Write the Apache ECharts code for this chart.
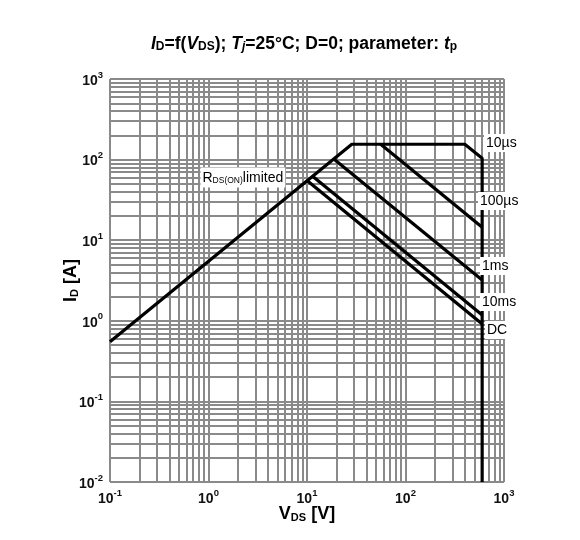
<!DOCTYPE html>
<html>
<head>
<meta charset="utf-8">
<script src="https://cdn.jsdelivr.net/npm/echarts@6/dist/echarts.min.js"></script>
<style>
html, body { margin: 0; padding: 0; background: #fff; }
#chart { width: 580px; height: 540px; }
</style>
</head>
<body>
<div id="chart"></div>
<script>
// axis decades and the 2..9 minor grid steps
const xDecades = [0.1, 1, 10, 100, 1000];
const yDecades = [0.01, 0.1, 1, 10, 100, 1000];
const minorSteps = [2, 3, 4, 5, 6, 7, 8, 9];

// SOA curves, [VDS (V), ID (A)]
const curve10us = [[0.1, 0.55], [28.5, 155], [400, 155], [600, 104], [600, 0.01]];
const curve100us = [[56, 155], [600, 14.5]];
const curve1ms = [[18.7, 102], [600, 3.2]];
const curve10ms = [[11.4, 62], [600, 1.18]];
const curveDC = [[10, 55], [600, 0.91]];

const FONT = 'Liberation Sans, Arial, sans-serif';

function gridValues(decades) {
	const out = [];
	decades.forEach((d, i) => {
		out.push(d);
		if (i < decades.length - 1) minorSteps.forEach(m => out.push(d * m));
	});
	return out;
}
const xGrid = gridValues(xDecades);
const yGrid = gridValues(yDecades);

const tickRich = {
	b: { fontSize: 14, fontWeight: 'bold', color: '#111', fontFamily: FONT, lineHeight: 18, verticalAlign: 'bottom' },
	e: { fontSize: 9.5, fontWeight: 'bold', color: '#111', fontFamily: FONT, lineHeight: 10, verticalAlign: 'top' }
};
function powLabel(v) {
	const e = Math.round(Math.log10(v));
	return '{b|10}{e|' + e + '}';
}
const nameRich = {
	v: { fontSize: 18, fontWeight: 'bold', color: '#000', fontFamily: FONT, lineHeight: 20, verticalAlign: 'bottom' },
	s: { fontSize: 11, fontWeight: 'bold', color: '#000', fontFamily: FONT, lineHeight: 13, verticalAlign: 'bottom' }
};

function curve(data) {
	return {
		type: 'line',
		data: data,
		showSymbol: false,
		symbol: 'none',
		z: 3,
		silent: true,
		lineStyle: { color: '#000', width: 3.2 }
	};
}

function curveLabel(text, x, y) {
	return {
		type: 'text', x: x, y: y, z: 100,
		style: {
			text: text, fontSize: 14, fontFamily: FONT, fill: '#000',
			backgroundColor: '#fff', padding: [2, 2], align: 'left', verticalAlign: 'middle'
		}
	};
}

const chart = echarts.init(document.getElementById('chart'), null, { renderer: 'canvas', width: 580, height: 540 });

const option = {
	animation: false,
	backgroundColor: '#fff',
	title: {
		text: '{i|I}{s|D}{n|=f(}{i|V}{s|DS}{n|); }{i|T}{si|j}{n|=25°C; D=0; parameter: }{i|t}{s|p}',
		left: 146,
		top: 28,
		textStyle: {
			rich: {
				n: { fontSize: 17.5, fontWeight: 'bold', color: '#000', fontFamily: FONT, lineHeight: 20, verticalAlign: 'bottom' },
				i: { fontSize: 17.5, fontWeight: 'bold', fontStyle: 'italic', color: '#000', fontFamily: FONT, lineHeight: 20, verticalAlign: 'bottom' },
				s: { fontSize: 12, fontWeight: 'bold', color: '#000', fontFamily: FONT, lineHeight: 14, verticalAlign: 'bottom' },
				si: { fontSize: 12, fontWeight: 'bold', fontStyle: 'italic', color: '#000', fontFamily: FONT, lineHeight: 14, verticalAlign: 'bottom' }
			}
		}
	},
	grid: { left: 110, right: 76, top: 79, bottom: 58 },
	xAxis: {
		type: 'log', logBase: 10, min: 0.1, max: 1000, splitNumber: 4,
		axisLine: { show: false }, axisTick: { show: false }, splitLine: { show: false },
		axisLabel: { formatter: powLabel, margin: 6, rich: tickRich, showMinLabel: true, showMaxLabel: true },
		name: '{v|V}{s|DS}{v| [V]}',
		nameLocation: 'middle', nameGap: 21, nameMoveOverlap: false,
		nameTextStyle: { rich: nameRich }
	},
	yAxis: {
		type: 'log', logBase: 10, min: 0.01, max: 1000, splitNumber: 5,
		axisLine: { show: false }, axisTick: { show: false }, splitLine: { show: false },
		axisLabel: { formatter: powLabel, margin: 7, rich: tickRich, showMinLabel: true, showMaxLabel: true },
		name: '{v|I}{s|D}{v| [A]}',
		nameLocation: 'middle', nameGap: 30, nameRotate: 90, nameMoveOverlap: false,
		nameTextStyle: { rich: nameRich }
	},
	series: [
		{
			type: 'line',
			data: [],
			z: 1,
			silent: true,
			markLine: {
				z: 1,
				silent: true,
				symbol: ['none', 'none'],
				label: { show: false },
				emphasis: { disabled: true },
				lineStyle: { color: '#8a8a8a', width: 2, type: 'solid' },
				data: xGrid.map(v => ({ xAxis: v })).concat(yGrid.map(v => ({ yAxis: v })))
			}
		},
		curve(curve10us),
		curve(curve100us),
		curve(curve1ms),
		curve(curve10ms),
		curve(curveDC)
	],
	graphic: [
		curveLabel('10µs', 484, 143),
		curveLabel('100µs', 478, 201),
		curveLabel('1ms', 480, 266),
		curveLabel('10ms', 480, 302),
		curveLabel('DC', 485, 330),
		{
			type: 'text', x: 200.5, y: 177.5, z: 100,
			style: {
				text: '{r|R}{s|DS(ON)}{r|limited}',
				backgroundColor: '#fff', padding: [2, 2], align: 'left', verticalAlign: 'middle',
				rich: {
					r: { fontSize: 14, fontFamily: FONT, fill: '#000', lineHeight: 16, verticalAlign: 'bottom' },
					s: { fontSize: 8.5, fontFamily: FONT, fill: '#000', lineHeight: 10, verticalAlign: 'bottom' }
				}
			}
		}
	]
};

chart.setOption(option);
</script>
</body>
</html>
